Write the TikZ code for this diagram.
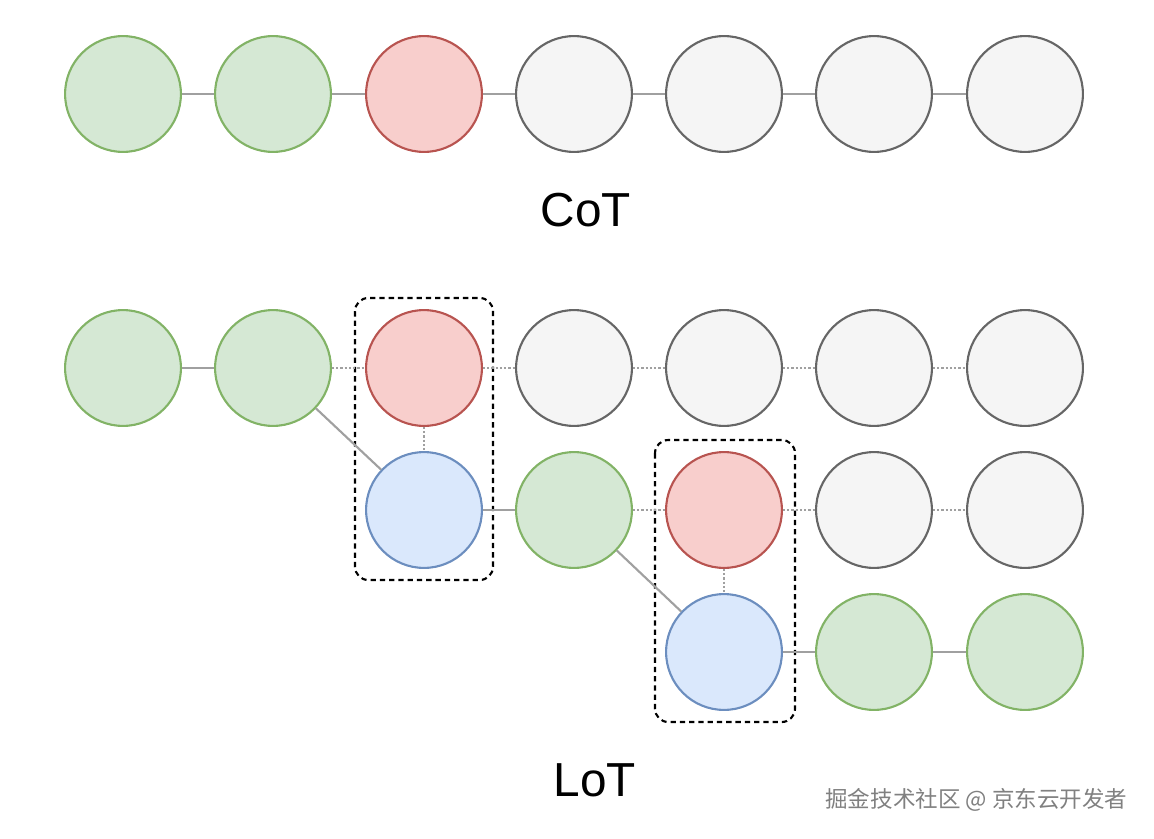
\documentclass[tikz,border=0pt]{standalone}
\usepackage{fontspec}
\setmainfont{Liberation Sans}
\newfontfamily\cjk{Noto Sans CJK SC}
\usetikzlibrary{calc}
\definecolor{okfill}{HTML}{D5E8D4}\definecolor{okline}{HTML}{82B366}
\definecolor{badfill}{HTML}{F8CECC}\definecolor{badline}{HTML}{B85450}
\definecolor{idlefill}{HTML}{F5F5F5}\definecolor{idleline}{HTML}{666666}
\definecolor{fixfill}{HTML}{DAE8FC}\definecolor{fixline}{HTML}{6C8EBF}
\definecolor{linkgray}{HTML}{A0A0A0}
\begin{document}
\begin{tikzpicture}[
	x = 0.0265cm, y = -0.0265cm,
	state/.style = {circle, minimum size = 3.07cm, inner sep = 0pt, line width = 1.6pt},
	ok/.style = {state, draw = okline, fill = okfill},
	bad/.style = {state, draw = badline, fill = badfill},
	idle/.style = {state, draw = idleline, fill = idlefill},
	fix/.style = {state, draw = fixline, fill = fixfill},
	link/.style = {draw = linkgray, line width = 1.6pt},
	guess/.style = {draw = linkgray, line width = 1.6pt, dash pattern = on 1.6pt off 1.6pt},
	group/.style = {draw, line width = 1.6pt, dash pattern = on 4pt off 3pt, rounded corners = 10pt},
	caption/.style = {font = \fontsize{36}{42}\selectfont}
]
\useasboundingbox (0,0) rectangle (1154,838);
% CoT row
\node[ok] (c1) at (123,94) {};
\node[ok] (c2) at (273,94) {};
\node[bad] (c3) at (424,94) {};
\foreach \i/\x in {4/574, 5/724, 6/874, 7/1025}
	\node[idle] (c\i) at (\x,94) {};
\foreach \a/\b in {1/2, 2/3, 3/4, 4/5, 5/6, 6/7}
	\draw[link] (c\a) -- (c\b);
\node[caption] (cot) at (586,210) {CoT};

% LoT rows
\draw[group] (355,298) rectangle (493,580);
\draw[group] (655,440) rectangle (795,722);
\node[ok] (l1) at (123,368) {};
\node[ok] (l2) at (273,368) {};
\node[bad] (l3) at (424,368) {};
\foreach \i/\x in {4/574, 5/724, 6/874, 7/1025}
	\node[idle] (l\i) at (\x,368) {};
\node[fix] (m3) at (424,510) {};
\node[ok] (m4) at (574,510) {};
\node[bad] (m5) at (724,510) {};
\node[idle] (m6) at (874,510) {};
\node[idle] (m7) at (1025,510) {};
\node[fix] (n5) at (724,652) {};
\node[ok] (n6) at (874,652) {};
\node[ok] (n7) at (1025,652) {};

\draw[link] (l1) -- (l2);
\foreach \a/\b in {l2/l3, l3/l4, l4/l5, l5/l6, l6/l7, l3/m3, m4/m5, m5/m6, m6/m7, m5/n5}
	\draw[guess] (\a) -- (\b);
\foreach \a/\b in {l2/m3, m3/m4, m4/n5, n5/n6, n6/n7}
	\draw[link] (\a) -- (\b);
\node[caption] (lot) at (595,780) {LoT};
\node[font = \cjk\fontsize{17}{20}\selectfont, text = gray, anchor = east] (mark) at (1132,800) {掘金技术社区 @ 京东云开发者};
\end{tikzpicture}
\end{document}
